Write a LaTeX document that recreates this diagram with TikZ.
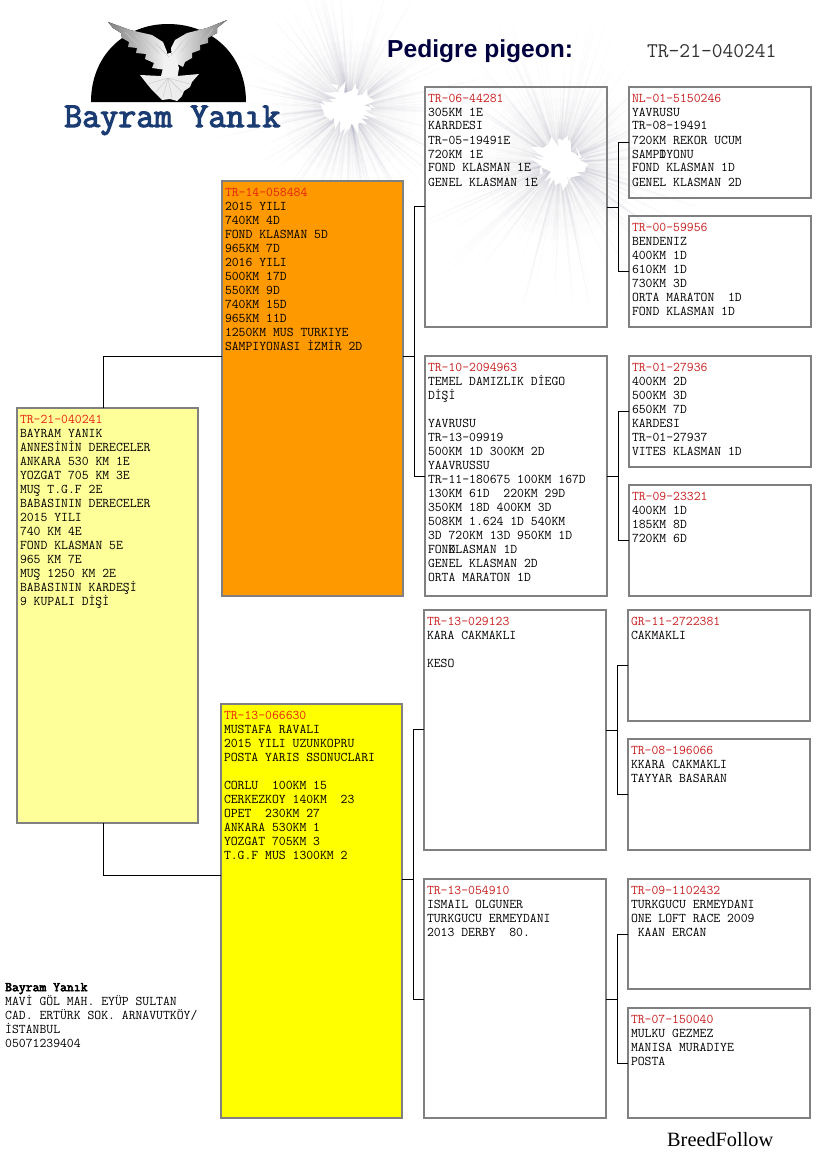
\documentclass[tikz,border=0pt]{standalone}
\usepackage{fontspec}
\setmainfont{Liberation Serif}
\newfontfamily\sansf{Liberation Sans}
\newcommand{\boldtt}[2]{\special{pdf:code 2 Tr #1 w}#2\special{pdf:code 0 Tr}}
\newcommand{\ptxt}[5][boxred]{\parbox[t][#3pt][t]{#2pt}{\setlength{\parindent}{0pt}\raggedright\setlength{\leftskip}{3pt}\fontsize{13.33}{14}\selectfont\ttfamily\rule{0pt}{15pt}\textcolor{#1}{#4}\\#5}}
\newcommand{\burst}[7]{% cx cy scale count blobx bloby tilt
  \foreach \r in {14,24,...,64}{
    \fill[raycol,opacity=.018] (#1,#2) circle[radius=\r*#3];
  }
  \foreach \i in {1,...,#4}{
    \pgfmathsetmacro\ang{rnd*360}
    \pgfmathsetmacro\len{(28+pow(rnd,1.6)*105)*#3}
    \pgfmathsetmacro\wid{.5+rnd*1.5}
    \fill[raycol,opacity=.07]
      ({#1+\wid*cos(\ang+90)},{#2+\wid*sin(\ang+90)})
      -- ({#1+\len*cos(\ang)},{#2+\len*sin(\ang)})
      -- ({#1-\wid*cos(\ang+90)},{#2-\wid*sin(\ang+90)}) -- cycle;
  }
  \fill[white,rotate around={#7:(#1,#2)}] plot[samples at={0,6,...,354}]
    ({#1+(.45+rnd*.65)*#5*cos(\x)},{#2+(.45+rnd*.65)*#6*sin(\x)}) -- cycle;
}
\newcommand{\bracket}[7]{% parent upper lower jx jy yu yl
  \coordinate (#1-j) at (#4,#5);
  \coordinate (#1-u) at (#4,#6);
  \coordinate (#1-l) at (#4,#7);
  \draw[conn] (#1.east |- #1-j) -- (#1-j);
  \draw[conn] (#2.west |- #1-u) -- (#1-u) -- (#1-l) -- (#3.west |- #1-l);
}
\definecolor{boxred}{HTML}{C81E1E}
\definecolor{hotred}{HTML}{E62010}
\definecolor{raycol}{HTML}{A4A4BC}
\definecolor{navy}{HTML}{00003F}
\definecolor{logoblue}{HTML}{1B3C73}
\tikzset{
  x=1pt,y=-1pt,
  pbox/.style={draw=black!50,line width=2pt,inner sep=0pt,outer sep=0pt,anchor=north west},
  conn/.style={draw=black,line width=1pt},
  free/.style={inner sep=0pt,anchor=base west},
  feather/.style={draw=black!22,line width=.4pt},
}
\begin{document}
\begin{tikzpicture}
\useasboundingbox (0,0) rectangle (825,1172);
\fill[white] (0,0) rectangle (825,1172);
\pgfmathsetseed{4711}
\burst{349}{108}{1.05}{320}{30}{26}{-20}
\burst{560}{163}{1.2}{320}{30}{26}{-20}
% logo
\fill[black] (91,102) .. controls (91,55) and (125,24) .. (168,24) .. controls (212,24) and (246,55) .. (246,102) -- cycle;
\fill[left color=black!50,right color=black!3] (108,22) -- (130,30) -- (152,35) -- (163,42) -- (167,52) -- (166,70) -- (152,68) -- (154,63) -- (145,59) -- (146,54) -- (136,53) -- (137,48) -- (128,47) -- (129,42) -- (122,38) -- (121,33) -- (113,28) -- cycle;
\fill[right color=black!50,left color=black!3] (227,20) -- (207,28) -- (187,33) -- (175,40) -- (171,48) -- (173,62) -- (183,67) -- (185,62) -- (192,58) -- (192,53) -- (200,50) -- (200,45) -- (208,43) -- (208,38) -- (217,33) -- (217,28) -- cycle;
\fill[black!5] (165,56) .. controls (167,52) and (173,52) .. (175,56) -- (179,68) -- (177,80) -- (160,80) -- (163,68) -- cycle;
\fill[black!7] (140,75) -- (160,76) -- (168,78) -- (177,76) -- (199,74) -- (192,82) -- (190,87) -- (184,91) -- (182,96) -- (177,101) -- (170,99) -- (162,100) -- (156,94) -- (152,90) -- (147,84) -- cycle;
\foreach \a/\b in {125/32,135/35,145/39,155/43}{\draw[feather] (\a,\b) -- (\a+14,\b+14);}
\foreach \a/\b in {213/29,203/33,193/37,183/41}{\draw[feather] (\a,\b) -- (\a-12,\b+15);}
\foreach \a/\b in {148/84,156/92,163/97,172/98,182/92,190/84}{\draw[feather] (168,78) -- (\a,\b);}
\node[free,text=logoblue] (logotext) at (64,127) {\fontsize{35}{35}\selectfont\ttfamily\color{logoblue}\boldtt{1.1}{Bayram Yanık}};
% headings
\node[free,text=navy] (title) at (387,58) {\fontsize{24.6}{26}\selectfont\sansf\bfseries Pedigre pigeon:};
\node[free,text=black!80] (ring) at (647,57) {\fontsize{20.9}{20}\selectfont\ttfamily TR-21-040241};
\node[free,text=black] (brand) at (667,1146) {\fontsize{20.3}{22}\selectfont BreedFollow};
% address
\node[inner sep=0pt,anchor=north west] (addr) at (2,976) {\parbox[t]{300pt}{\setlength{\parindent}{0pt}\raggedright\setlength{\leftskip}{3pt}\fontsize{13.33}{14}\selectfont\ttfamily\rule{0pt}{15pt}\boldtt{.5}{Bayram Yanık}\\MAVİ GÖL MAH. EYÜP SULTAN\\CAD. ERTÜRK SOK. ARNAVUTKÖY/\\İSTANBUL\\05071239404}};
% generation 1
\node[pbox,fill={rgb,255:red,255;green,255;blue,153}] (root) at (17,408) {\ptxt[hotred]{181}{415}{TR-21-040241}{BAYRAM YANIK\\ANNESİNİN DERECELER\\ANKARA 530 KM 1E\\YOZGAT 705 KM 3E\\MUŞ T.G.F 2E\\BABASININ DERECELER\\2015 YILI\\740 KM 4E\\FOND KLASMAN 5E\\965 KM 7E\\MUŞ 1250 KM 2E\\BABASININ KARDEŞİ\\9 KUPALI DİŞİ}};
% generation 2
\node[pbox,fill={rgb,255:red,255;green,153;blue,0}] (sire) at (222,181) {\ptxt[hotred]{181}{415}{TR-14-058484}{2015 YILI\\740KM 4D\\FOND KLASMAN 5D\\965KM 7D\\2016 YILI\\500KM 17D\\550KM 9D\\740KM 15D\\965KM 11D\\1250KM MUS TURKIYE\\SAMPIYONASI İZMİR 2D}};
\node[pbox,fill={rgb,255:red,255;green,255;blue,0}] (dam) at (221,704) {\ptxt[hotred]{181}{414}{TR-13-066630}{MUSTAFA RAVALI\\2015 YILI UZUNKOPRU\\POSTA YARIS SSONUCLARI\\~\\CORLU~~100KM 15\\CERKEZKOY 140KM~~23\\OPET~~230KM 27\\ANKARA 530KM 1\\YOZGAT 705KM 3\\T.G.F MUS 1300KM 2}};
% generation 3
\node[pbox] (ss) at (425,87) {\ptxt{182}{240}{TR-06-44281}{305KM 1E\\KARRDESI\\TR-05-19491E\\720KM 1E\\FOND KLASMAN 1E\\GENEL KLASMAN 1E}};
\node[pbox] (sd) at (425,356) {\ptxt{182}{240}{TR-10-2094963}{TEMEL DAMIZLIK DİEGO\\DİŞİ\\~\\YAVRUSU\\TR-13-09919\\500KM 1D 300KM 2D\\YAAVRUSSU\\TR-11-180675 100KM 167D\\130KM 61D~~220KM 29D\\350KM 18D 400KM 3D\\508KM 1.624 1D 540KM\\3D 720KM 13D 950KM 1D\\FON\rlap{D}KLASMAN 1D\\GENEL KLASMAN 2D\\ORTA MARATON 1D}};
\node[pbox] (ds) at (424,610) {\ptxt{182}{240}{TR-13-029123}{KARA CAKMAKLI\\~\\KESO}};
\node[pbox] (dd) at (424,879) {\ptxt{182}{239}{TR-13-054910}{ISMAIL OLGUNER\\TURKGUCU ERMEYDANI\\2013 DERBY~~80.}};
% generation 4
\node[pbox] (sss) at (629,87) {\ptxt{182}{111}{NL-01-5150246}{YAVRUSU\\TR-08-19491\\720KM REKOR UCUM\\SAMP\rlap{I}DYONU\\FOND KLASMAN 1D\\GENEL KLASMAN 2D}};
\node[pbox] (ssd) at (629,216) {\ptxt{182}{111}{TR-00-59956}{BENDENIZ\\400KM 1D\\610KM 1D\\730KM 3D\\ORTA MARATON~~1D\\FOND KLASMAN 1D}};
\node[pbox] (sds) at (629,356) {\ptxt{182}{111}{TR-01-27936}{400KM 2D\\500KM 3D\\650KM 7D\\KARDESI\\TR-01-27937\\VITES KLASMAN 1D}};
\node[pbox] (sdd) at (629,485) {\ptxt{182}{111}{TR-09-23321}{400KM 1D\\185KM 8D\\720KM 6D}};
\node[pbox] (dss) at (628,610) {\ptxt{182}{111}{GR-11-2722381}{CAKMAKLI}};
\node[pbox] (dsd) at (628,739) {\ptxt{182}{111}{TR-08-196066}{KKARA CAKMAKLI\\TAYYAR BASARAN}};
\node[pbox] (dds) at (628,879) {\ptxt{182}{110}{TR-09-1102432}{TURKGUCU ERMEYDANI\\ONE LOFT RACE 2009\\~KAAN ERCAN}};
\node[pbox] (ddd) at (628,1008) {\ptxt{182}{110}{TR-07-150040}{MULKU GEZMEZ\\MANISA MURADIYE\\POSTA}};
% connectors
\coordinate (rs) at (103.5,356.5);
\coordinate (rd) at (103.5,875.5);
\draw[conn] (root.north -| rs) -- (rs) -- (sire.west |- rs);
\draw[conn] (root.south -| rd) -- (rd) -- (dam.west |- rd);
\bracket{sire}{ss}{sd}{414.5}{356.5}{206.5}{476.5}
\bracket{dam}{ds}{dd}{413.5}{879.5}{729.5}{999.5}
\bracket{ss}{sss}{ssd}{618.5}{207}{142.5}{271.5}
\bracket{sd}{sds}{sdd}{618.5}{476.5}{411.5}{540.5}
\bracket{ds}{dss}{dsd}{617.5}{730.5}{665.5}{794.5}
\bracket{dd}{dds}{ddd}{617.5}{999.5}{934.5}{1063.5}
\end{tikzpicture}
\end{document}
